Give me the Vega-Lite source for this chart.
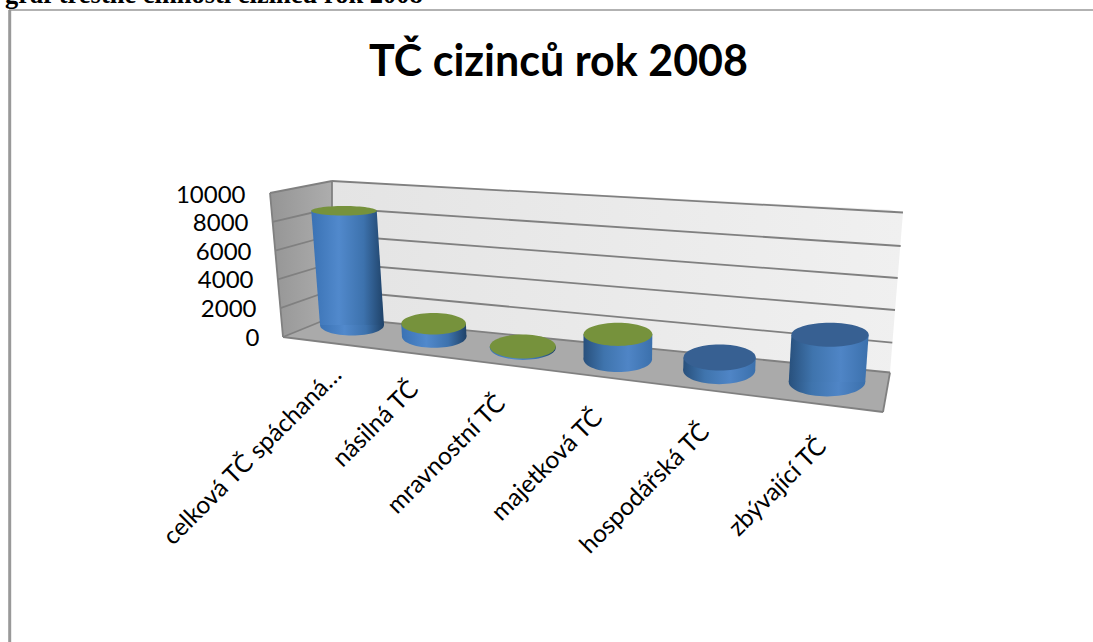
{
"$schema":"https://vega.github.io/schema/vega-lite/v6.json",
"width":1093,"height":642,"padding":0,"autosize":{"type":"none"},"background":"white",
"title":{"text":"TČ cizinců rok 2008","font":"Lato","fontSize":43,"fontWeight":"bold","color":"#000000","anchor":"middle","frame":"group","dx":12,"dy":103,"offset":0},
"config":{"view":{"stroke":null},"font":"Lato"},
"datasets":{
"kategorie":[
{"kategorie":"celková TČ spáchaná…","hodnota":8160},
{"kategorie":"násilná TČ","hodnota":900},
{"kategorie":"mravnostní TČ","hodnota":90},
{"kategorie":"majetková TČ","hodnota":1700},
{"kategorie":"hospodářská TČ","hodnota":860},
{"kategorie":"zbývající TČ","hodnota":3000}],
"ramec":[{"popis":"graf trestné činnosti cizinců rok 2008"}],
"levaStena":[{"u":-0.8,"vTop":10150,"vBottom":10150},{"u":-0.67,"vTop":10325,"vBottom":70},{"u":-0.18,"vTop":10990,"vBottom":1470}],
"zadniStena":[{"u":-0.18,"vTop":10990,"vBottom":1470},{"u":5.4,"vTop":8974,"vBottom":-2415},{"u":5.53,"vTop":8785,"vBottom":8785}],
"podlaha":[{"u":-0.67,"vTop":70,"vBottom":70},{"u":-0.18,"vTop":1470,"vBottom":-357},{"u":5.33,"vTop":-2366,"vBottom":-5180},{"u":5.4,"vTop":-2415,"vBottom":-2415}],
"mrizka":[
{"u0":-0.18,"v0":10990,"u1":5.53,"v1":8785},
{"u0":-0.18,"v0":9100,"u1":5.507,"v1":6440},
{"u0":-0.18,"v0":7210,"u1":5.477,"v1":4200},
{"u0":-0.18,"v0":5250,"u1":5.45,"v1":1960},
{"u0":-0.18,"v0":3360,"u1":5.423,"v1":-329},
{"u0":-0.18,"v0":1470,"u1":5.4,"v1":-2415},
{"u0":-0.18,"v0":10990,"u1":-0.8,"v1":10150},
{"u0":-0.18,"v0":9100,"u1":-0.774,"v1":8134},
{"u0":-0.18,"v0":7210,"u1":-0.748,"v1":6118},
{"u0":-0.18,"v0":5250,"u1":-0.722,"v1":4102},
{"u0":-0.18,"v0":3360,"u1":-0.696,"v1":2086},
{"u0":-0.18,"v0":1470,"u1":-0.67,"v1":70},
{"u0":-0.67,"v0":70,"u1":5.33,"v1":-5180},
{"u0":5.33,"v0":-5180,"u1":5.4,"v1":-2415},
{"u0":-0.8,"v0":10150,"u1":-0.67,"v1":70},
{"u0":-0.18,"v0":10990,"u1":-0.18,"v1":1470}]
},
"encoding":{
"x":{"type":"quantitative","scale":{"domain":[-3.5,7.43],"range":[0,1093],"nice":false,"zero":false},"axis":null},
"y":{"type":"quantitative","title":null,"scale":{"domain":[-21280,23660],"range":[642,0],"nice":false,"zero":false},
"axis":{"values":[0,2000,4000,6000,8000,10000],"format":"d","grid":false,"domain":false,"ticks":false,"tickSize":0,"title":null,"offset":-257,"labelFont":"Lato","labelFontSize":24,"labelColor":"#000000","labelFlush":false,"labelOverlap":false,"labelBound":false,
"labelPadding":{"condition":[{"test":"datum.value==0","value":-2},{"test":"datum.value==2000","value":1},{"test":"datum.value==4000","value":4},{"test":"datum.value==6000","value":6},{"test":"datum.value==8000","value":9}],"value":12}}}
},
"layer":[
{"data":{"name":"levaStena"},"mark":{"type":"area","fill":{"gradient":"linear","x1":0,"x2":1,"y1":0,"y2":0,"stops":[{"offset":0,"color":"#959595"},{"offset":1,"color":"#adadad"}]}},
"encoding":{"x":{"field":"u"},"y":{"field":"vTop"},"y2":{"field":"vBottom"}}},
{"data":{"name":"zadniStena"},"mark":{"type":"area","fill":{"gradient":"linear","x1":0,"x2":1,"y1":0,"y2":0,"stops":[{"offset":0,"color":"#e4e4e4"},{"offset":1,"color":"#f0f0f0"}]}},
"encoding":{"x":{"field":"u"},"y":{"field":"vTop"},"y2":{"field":"vBottom"}}},
{"data":{"name":"podlaha"},"mark":{"type":"area","fill":"#aaaaaa"},
"encoding":{"x":{"field":"u"},"y":{"field":"vTop"},"y2":{"field":"vBottom"}}},
{"data":{"name":"mrizka"},"mark":{"type":"rule","stroke":"#808080","strokeWidth":1.8},
"encoding":{"x":{"field":"u0"},"x2":{"field":"u1"},"y":{"field":"v0"},"y2":{"field":"v1"}}},
{"data":{"name":"kategorie"},
"transform":[
{"window":[{"op":"row_number","as":"n"}]},
{"calculate":"datum.n-1","as":"i"},
{"calculate":"0.02+0.79*datum.i+0.032*datum.i*datum.i","as":"uBase"},
{"calculate":"910-798*datum.i","as":"vBase"},
{"calculate":"datum.vBase+datum.hodnota*(0.98+0.0049*datum.i*datum.i)","as":"vHorni"},
{"calculate":"(datum.vHorni-datum.vBase)/70","as":"h"},
{"calculate":"datum.uBase+(datum.uBase-2.5)*datum.h*0.000283","as":"uHorni"},
{"calculate":"32+0.25*datum.i*datum.i","as":"rx"},
{"calculate":"datum.rx*(1+datum.h*0.0002)","as":"rxHorni"},
{"calculate":"(4.8+0.05*(128-datum.vBase/70)+0.2*datum.i)/datum.rx","as":"kB"},
{"calculate":"(4.8+0.05*(128-datum.vHorni/70)+0.2*datum.i)/datum.rxHorni","as":"kT"},
{"calculate":"'M-1,0A1,'+datum.kB+',0,1,0,1,0A1,'+datum.kB+',0,1,0,-1,0Z'","as":"tvarB"},
{"calculate":"'M-1,0A1,'+datum.kT+',0,1,0,1,0A1,'+datum.kT+',0,1,0,-1,0Z'","as":"tvarT"},
{"calculate":"4*datum.rx*datum.rx","as":"velB"},
{"calculate":"4*datum.rxHorni*datum.rxHorni","as":"velT"},
{"calculate":"-0.12+0.72*datum.i+0.05*datum.i*datum.i","as":"uPopis"},
{"calculate":"-2340-1000*datum.i","as":"vPopis"}
],
"layer":[
{"mark":{"type":"point","filled":true,"opacity":1},
"encoding":{"x":{"field":"uBase"},"y":{"field":"vBase"},
"shape":{"field":"tvarB","type":"nominal","scale":null,"legend":null},
"size":{"field":"velB","type":"quantitative","scale":null,"legend":null},
"color":{"condition":{"test":"datum.i<3","value":{"gradient":"linear","x1":0,"x2":1,"y1":0,"y2":0,"stops":[{"offset":0,"color":"#3a72b4"},{"offset":0.38,"color":"#5189cc"},{"offset":0.72,"color":"#3d72ad"},{"offset":1,"color":"#1f4268"}]}},"value":{"gradient":"linear","x1":0,"x2":1,"y1":0,"y2":0,"stops":[{"offset":0,"color":"#28507c"},{"offset":0.3,"color":"#3f74ad"},{"offset":0.65,"color":"#4f85c6"},{"offset":1,"color":"#3b70ac"}]}}}},
{"transform":[
{"calculate":"datum.uBase-datum.rx/100","as":"uLB"},
{"calculate":"datum.uBase+datum.rx/100","as":"uRB"},
{"calculate":"datum.uHorni-datum.rxHorni/100","as":"uLT"},
{"calculate":"datum.uHorni+datum.rxHorni/100","as":"uRT"},
{"fold":["vBase","vHorni"],"as":["konec","vKonec"]},
{"calculate":"datum.konec=='vBase'?datum.uLB:datum.uLT","as":"uL"},
{"calculate":"datum.konec=='vBase'?datum.uRB:datum.uRT","as":"uR"}],
"mark":{"type":"area","orient":"horizontal"},
"encoding":{"y":{"field":"vKonec"},"x":{"field":"uL"},"x2":{"field":"uR"},"detail":{"field":"kategorie","type":"nominal"},
"color":{"condition":{"test":"datum.i<3","value":{"gradient":"linear","x1":0,"x2":1,"y1":0,"y2":0,"stops":[{"offset":0,"color":"#3a72b4"},{"offset":0.38,"color":"#5189cc"},{"offset":0.72,"color":"#3d72ad"},{"offset":1,"color":"#1f4268"}]}},"value":{"gradient":"linear","x1":0,"x2":1,"y1":0,"y2":0,"stops":[{"offset":0,"color":"#28507c"},{"offset":0.3,"color":"#3f74ad"},{"offset":0.65,"color":"#4f85c6"},{"offset":1,"color":"#3b70ac"}]}}}},
{"mark":{"type":"point","filled":true,"opacity":1},
"encoding":{"x":{"field":"uHorni"},"y":{"field":"vHorni"},
"shape":{"field":"tvarT","type":"nominal","scale":null,"legend":null},
"size":{"field":"velT","type":"quantitative","scale":null,"legend":null},
"color":{"condition":{"test":"datum.i<4","value":"#76923c"},"value":"#376092"}}},
{"mark":{"type":"text","angle":-45,"align":"right","baseline":"middle","font":"Lato","fontSize":24.5,"color":"#000000"},
"encoding":{"x":{"field":"uPopis"},"y":{"field":"vPopis"},"text":{"field":"kategorie","type":"nominal"}}}
]},
{"data":{"name":"ramec"},"mark":{"type":"rule","stroke":"#999999","strokeWidth":3},"encoding":{"x":{"datum":-3.403},"y":{"datum":22960},"y2":{"datum":-21280}}},
{"data":{"name":"ramec"},"mark":{"type":"rule","stroke":"#999999","strokeWidth":1.5},"encoding":{"y":{"datum":22960},"x":{"datum":-3.41},"x2":{"datum":7.43}}},
{"data":{"name":"ramec"},"mark":{"type":"text","align":"left","baseline":"alphabetic","font":"Liberation Serif","fontWeight":"bold","fontSize":26.5,"color":"#000000"},
"encoding":{"x":{"datum":-3.45},"y":{"datum":23450},"text":{"field":"popis","type":"nominal"}}}
]
}
